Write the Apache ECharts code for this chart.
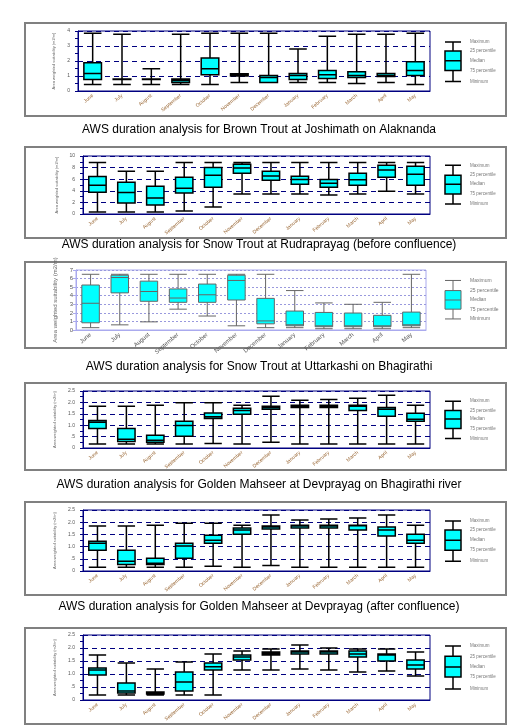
<!DOCTYPE html>
<html><head><meta charset="utf-8">
<script src="https://cdn.jsdelivr.net/npm/echarts@6/dist/echarts.min.js"></script>
<style>html,body{margin:0;padding:0;background:#fff}#c{width:519px;height:728px}</style>
</head><body><div id="c"></div>
<script>
const months = ['June','July','August','September','October','November','December','January','February','March','April','May'];
const legendLabels = ['Maximum','25 percentile','Median','75 percentile','Minimum'];
const titles = [
 'AWS duration analysis for Brown Trout at Joshimath on Alaknanda',
 'AWS duration analysis for Snow Trout at Rudraprayag (before confluence)',
 'AWS duration analysis for Snow Trout at Uttarkashi on Bhagirathi',
 'AWS duration analysis for Golden Mahseer at Devprayag on Bhagirathi river',
 'AWS duration analysis for Golden Mahseer at Devprayag (after confluence)',
 ''
];
// [min, Q1, median, Q3, max]
const brownTroutJoshimath = [[0.44,0.77,1.16,1.88,3.85],[0.44,0.77,0.78,0.8,3.78],[0.44,0.76,0.78,0.8,1.49],[0.44,0.57,0.7,0.8,3.78],[0.44,1.09,1.49,2.2,3.85],[0.57,1.0,1.08,1.15,3.85],[0.57,0.57,0.9,1.03,3.85],[0.57,0.77,1.03,1.16,2.8],[0.57,0.83,1.09,1.36,3.65],[0.5,0.9,1.03,1.29,3.78],[0.57,0.96,1.03,1.16,3.78],[0.44,1.03,1.36,1.95,3.85]];
const brownTroutLegend = [0.64,1.36,2.01,2.67,3.26];
const snowTroutRudraprayag = [[0.34,3.77,4.97,6.46,8.9],[0.34,1.89,3.71,5.49,7.37],[0.34,1.54,2.74,4.8,7.37],[0.5,3.6,4.46,6.34,8.9],[1.2,4.63,6.69,8.0,8.9],[3.43,7.03,7.94,8.57,8.9],[3.43,5.83,6.57,7.37,8.9],[3.43,5.14,5.94,6.51,8.9],[3.26,4.63,5.31,5.94,8.9],[3.43,4.97,5.89,7.03,8.9],[3.94,6.34,7.6,8.4,8.9],[3.43,4.97,6.86,8.23,8.9]];
const snowTroutRudraLegend = [1.71,3.43,5.14,6.7,8.4];
const snowTroutUttarkashi = [[0.27,0.84,3.12,5.25,6.5],[0.6,4.33,6.12,6.39,6.5],[0.95,3.35,4.49,5.7,6.5],[2.43,3.23,3.73,4.79,6.5],[1.63,3.23,4.11,5.36,6.5],[0.49,3.5,5.78,6.39,6.5],[0.27,0.72,1.06,3.69,6.5],[0.27,0.49,0.61,2.21,4.6],[0.15,0.38,0.49,2.05,3.16],[0.15,0.38,0.49,1.98,3.0],[0.15,0.38,0.49,1.71,3.23],[0.27,0.49,0.61,2.09,6.5]];
const snowTroutUttarLegend = [1.29,2.43,3.5,4.6,5.78];
const mahseerBhagirathi = [[0.18,0.86,1.13,1.21,1.83],[0.18,0.29,0.38,0.86,1.83],[0.18,0.25,0.34,0.56,1.87],[0.18,0.51,0.99,1.17,1.99],[0.2,1.29,1.37,1.54,1.99],[0.18,1.48,1.65,1.74,1.87],[0.25,1.7,1.78,1.83,2.27],[0.18,1.78,1.83,1.87,2.09],[0.18,1.78,1.84,1.87,2.13],[0.18,1.65,1.83,1.87,2.18],[0.18,1.39,1.7,1.78,2.31],[0.18,1.17,1.26,1.52,1.87]];
const mahseerBhagLegend = [0.42,0.86,1.27,1.65,2.05];
const mahseerAfter = [[0.15,0.85,1.14,1.22,1.84],[0.15,0.27,0.4,0.85,1.84],[0.15,0.27,0.32,0.52,1.88],[0.15,0.52,1.02,1.14,1.96],[0.19,1.14,1.26,1.47,1.96],[0.15,1.51,1.68,1.76,1.88],[0.23,1.72,1.8,1.84,2.29],[0.15,1.76,1.84,1.88,2.09],[0.15,1.76,1.84,1.88,2.13],[0.15,1.68,1.85,1.88,2.17],[0.15,1.43,1.68,1.8,2.29],[0.15,1.14,1.26,1.51,1.88]];
const mahseerAfterLegend = [0.4,0.85,1.26,1.68,2.05];
const mahseerSixth = [[0.19,0.96,1.15,1.23,1.73],[0.19,0.27,0.35,0.65,1.42],[0.19,0.23,0.27,0.31,1.19],[0.19,0.35,0.69,1.08,1.46],[0.19,1.15,1.28,1.42,1.77],[1.15,1.54,1.65,1.73,1.88],[1.15,1.73,1.79,1.85,1.96],[1.19,1.77,1.85,1.88,2.12],[1.15,1.77,1.85,1.88,2.0],[1.08,1.65,1.77,1.88,1.96],[1.12,1.5,1.73,1.77,1.96],[0.92,1.19,1.35,1.54,1.85]];
const mahseerSixthLegend = [0.42,0.88,1.27,1.68,2.08];
const yMaxes = [4,10,7,2.5,2.5,2.5];
const yIntervals = [1,2,1,0.5,0.5,0.5];
const yNames = ['Area weighted suitability (m2/m)','Area weighted suitability (m2/m)','Area weighted suitability (m2/m)','Area weighted suitability (m2/m)','Area weighted suitability (m2/m)','Area weighted suitability (m2/m)'];

const panelData = [brownTroutJoshimath,snowTroutRudraprayag,snowTroutUttarkashi,mahseerBhagirathi,mahseerAfter,mahseerSixth];
const legendData = [brownTroutLegend,snowTroutRudraLegend,snowTroutUttarLegend,mahseerBhagLegend,mahseerAfterLegend,mahseerSixthLegend];

const frames = [[25,23,481,93],[25,147,481,91],[25,262,481,86],[25,383,481,87],[25,502,481,93],[25,628,481,96]];
const plots = [[78,31,352,60],[83,156,347,58],[76,270,350,60],[83,391,347,57],[83,510,347,61],[83,635,347,65]];
const titleY = [130,245,367,485,607];

const grids=[],xAxes=[],yAxes=[],series=[],graphics=[];
for(let i=0;i<6;i++){
  const special = i===2;
  const decimal = yIntervals[i] < 1;
  const [l,t,w,h]=plots[i];
  const axisColor = special?'#aaaaee':'#000080';
  grids.push({left:l,top:t,width:w,height:h,show:true,borderColor:axisColor,borderWidth:1});
  grids.push({left:440,top:t,width:26,height:h});
  xAxes.push({type:'category',gridIndex:2*i,data:months,axisTick:{show:false},axisLine:{lineStyle:{color:axisColor}},
    axisLabel:{rotate:40,fontSize:special?6:5,color:special?'#555':'#996633',interval:0,margin:4}});
  xAxes.push({type:'category',gridIndex:2*i+1,data:['L'],show:false});
  yAxes.push({type:'value',gridIndex:2*i,min:0,max:yMaxes[i],interval:yIntervals[i],
    name:yNames[i],nameLocation:'middle',nameGap:special?14:22,nameTextStyle:{fontSize:special?6:4,color:'#666'},
    axisLine:{show:true,lineStyle:{color:axisColor}},axisTick:{show:true,length:3,lineStyle:{color:axisColor}},
    minorTick:{show:!special,splitNumber:2,length:3,lineStyle:{color:axisColor}},
    axisLabel:{fontSize:special?6:5,color:'#555',margin:special?3:8,
      formatter: v => decimal ? (v===0?'0':v.toFixed(1).replace(/^0\./,'.')) : String(v)},
    splitLine:{show:true,lineStyle:{type:special?[2,2]:[5,4],color:special?'#9999dd':'#000080',width:special?1:1.2}}});
  yAxes.push({type:'value',gridIndex:2*i+1,min:0,max:yMaxes[i],show:false,splitLine:{show:false}});
  const boxStyle = {color:'#00ffff',borderColor:special?'#666':'#000',borderWidth:special?1:1.5};
  series.push({type:'boxplot',xAxisIndex:2*i,yAxisIndex:2*i,data:panelData[i],boxWidth:['60%','60%'],itemStyle:boxStyle,silent:true});
  series.push({type:'boxplot',xAxisIndex:2*i+1,yAxisIndex:2*i+1,data:[legendData[i]],boxWidth:[16,16],itemStyle:boxStyle,silent:true});
  const [fx,fy,fw,fh]=frames[i];
  graphics.push({type:'rect',shape:{x:fx,y:fy,width:fw,height:fh},style:{fill:'none',stroke:'#808080',lineWidth:2},z:-1});
  if(titles[i]) graphics.push({type:'text',x:259,y:titleY[i],style:{text:titles[i],font:'12px "Liberation Sans", Arial',fill:'#000',align:'center',verticalAlign:'middle'}});
}
const chart = echarts.init(document.getElementById('c'),null,{renderer:'canvas'});
chart.setOption({animation:false,grid:grids,xAxis:xAxes,yAxis:yAxes,series:series,graphic:graphics});
const order=[4,3,2,1,0];
for(let i=0;i<6;i++){
  for(let k=0;k<5;k++){
    const p = chart.convertToPixel({gridIndex:2*i+1},['L',legendData[i][order[k]]]);
    graphics.push({type:'text',x:470,y:p[1],style:{text:legendLabels[k],font:(i===2?'5px':'4.5px')+' "Liberation Sans", Arial',fill:'#777',verticalAlign:'middle'}});
  }
}
chart.setOption({graphic:graphics});
</script></body></html>
